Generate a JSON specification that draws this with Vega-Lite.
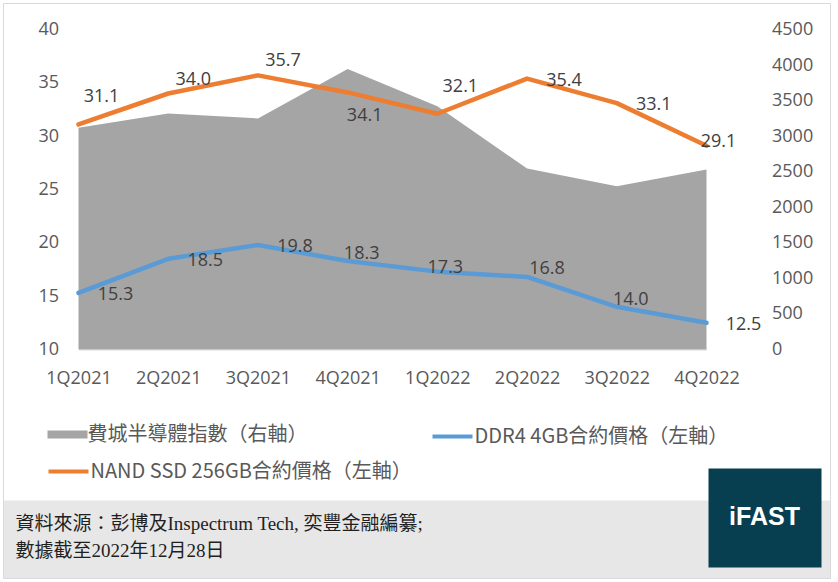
{
  "$schema": "https://vega.github.io/schema/vega-lite/v6.json",
  "background": "white",
  "padding": {"left": 2.5, "top": 2.5, "right": 7, "bottom": 3.5},
  "bounds": "flush",
  "spacing": 151,
  "resolve": {"scale": {"x": "independent", "y": "independent"}},
  "config": {"view": {"stroke": null}, "text": {"font": "Open Sans"},
    "legend": {"orient": "none", "title": null, "direction": "vertical", "labelFont": "Noto Sans CJK TC", "labelFontSize": 20, "labelColor": "#595959", "labelLimit": 600, "labelOffset": 0, "padding": 0, "symbolSize": 1600}},
  "vconcat": [
    {
      "width": 628,
      "height": 320,
      "data": {"values": [
        {"q": "1Q2021", "k": "SOX", "series": "費城半導體指數（右軸）", "value": 3120},
        {"q": "2Q2021", "k": "SOX", "series": "費城半導體指數（右軸）", "value": 3320},
        {"q": "3Q2021", "k": "SOX", "series": "費城半導體指數（右軸）", "value": 3250},
        {"q": "4Q2021", "k": "SOX", "series": "費城半導體指數（右軸）", "value": 3945},
        {"q": "1Q2022", "k": "SOX", "series": "費城半導體指數（右軸）", "value": 3420},
        {"q": "2Q2022", "k": "SOX", "series": "費城半導體指數（右軸）", "value": 2545},
        {"q": "3Q2022", "k": "SOX", "series": "費城半導體指數（右軸）", "value": 2295},
        {"q": "4Q2022", "k": "SOX", "series": "費城半導體指數（右軸）", "value": 2530},
        {"q": "1Q2021", "k": "DDR4", "series": "DDR4 4GB合約價格（左軸）", "value": 15.3},
        {"q": "2Q2021", "k": "DDR4", "series": "DDR4 4GB合約價格（左軸）", "value": 18.5},
        {"q": "3Q2021", "k": "DDR4", "series": "DDR4 4GB合約價格（左軸）", "value": 19.8},
        {"q": "4Q2021", "k": "DDR4", "series": "DDR4 4GB合約價格（左軸）", "value": 18.3},
        {"q": "1Q2022", "k": "DDR4", "series": "DDR4 4GB合約價格（左軸）", "value": 17.3},
        {"q": "2Q2022", "k": "DDR4", "series": "DDR4 4GB合約價格（左軸）", "value": 16.8},
        {"q": "3Q2022", "k": "DDR4", "series": "DDR4 4GB合約價格（左軸）", "value": 14.0},
        {"q": "4Q2022", "k": "DDR4", "series": "DDR4 4GB合約價格（左軸）", "value": 12.5},
        {"q": "1Q2021", "k": "NAND", "series": "NAND SSD 256GB合約價格（左軸）", "value": 31.1},
        {"q": "2Q2021", "k": "NAND", "series": "NAND SSD 256GB合約價格（左軸）", "value": 34.0},
        {"q": "3Q2021", "k": "NAND", "series": "NAND SSD 256GB合約價格（左軸）", "value": 35.7},
        {"q": "4Q2021", "k": "NAND", "series": "NAND SSD 256GB合約價格（左軸）", "value": 34.1},
        {"q": "1Q2022", "k": "NAND", "series": "NAND SSD 256GB合約價格（左軸）", "value": 32.1},
        {"q": "2Q2022", "k": "NAND", "series": "NAND SSD 256GB合約價格（左軸）", "value": 35.4},
        {"q": "3Q2022", "k": "NAND", "series": "NAND SSD 256GB合約價格（左軸）", "value": 33.1},
        {"q": "4Q2022", "k": "NAND", "series": "NAND SSD 256GB合約價格（左軸）", "value": 29.1}
      ]},
      "encoding": {
        "x": {
          "field": "q", "type": "ordinal",
          "sort": ["1Q2021", "2Q2021", "3Q2021", "4Q2021", "1Q2022", "2Q2022", "3Q2022", "4Q2022"],
          "scale": {"type": "point", "padding": 0},
          "axis": {"title": null, "labelAngle": 0, "ticks": false, "grid": false, "domainColor": "#D9D9D9", "domainWidth": 1, "labelPadding": 20, "labelFont": "Open Sans", "labelFontSize": 18, "labelColor": "#595959"}
        }
      },
      "layer": [
        {
          "transform": [{"filter": "datum.k === 'SOX'"}],
          "mark": {"type": "area", "opacity": 1},
          "encoding": {
            "y": {"field": "value", "type": "quantitative", "scale": {"domain": [0, 4500], "nice": false},
              "axis": {"orient": "right", "title": null, "format": "d", "values": [0, 500, 1000, 1500, 2000, 2500, 3000, 3500, 4000, 4500], "grid": false, "domain": false, "ticks": false, "offset": 44, "labelPadding": 21, "labelFont": "Open Sans", "labelFontSize": 18, "labelColor": "#595959"}},
            "fill": {
              "field": "series", "type": "nominal",
              "scale": {"domain": ["費城半導體指數（右軸）"], "range": ["#A5A5A5"]},
              "legend": {"legendX": -31, "legendY": 385, "symbolType": "M-1,-0.2H1V0.2H-1Z", "symbolStrokeWidth": 0}
            }
          }
        },
        {
          "encoding": {
            "y": {"field": "value", "type": "quantitative", "scale": {"domain": [10, 40], "nice": false, "zero": false},
              "axis": {"orient": "left", "title": null, "values": [10, 15, 20, 25, 30, 35, 40], "grid": false, "domain": false, "ticks": false, "labelPadding": 20, "labelFont": "Open Sans", "labelFontSize": 18, "labelColor": "#595959"}}
          },
          "layer": [
            {
              "transform": [{"filter": "datum.k === 'NAND'"}],
              "mark": {"type": "line", "strokeWidth": 4.5, "strokeCap": "round", "strokeJoin": "round"},
              "encoding": {"color": {"field": "series", "type": "nominal",
                "scale": {"domain": ["NAND SSD 256GB合約價格（左軸）"], "range": ["#ED7D31"]},
                "legend": {"legendX": -32, "legendY": 420, "symbolType": "stroke", "symbolStrokeWidth": 4}}}
            },
            {
              "transform": [{"filter": "datum.k === 'DDR4'"}],
              "mark": {"type": "line", "strokeWidth": 4.5, "strokeCap": "round", "strokeJoin": "round"},
              "encoding": {"stroke": {"field": "series", "type": "nominal",
                "scale": {"domain": ["DDR4 4GB合約價格（左軸）"], "range": ["#5B9BD5"]},
                "legend": {"legendX": 352, "legendY": 385, "symbolType": "stroke", "symbolStrokeWidth": 4}}}
            },
            {
              "transform": [{"filter": "datum.k === 'NAND' && (datum.q === '1Q2021' || datum.q === '1Q2022')"}],
              "mark": {"type": "text", "dx": 23, "dy": -27, "fontSize": 18, "color": "#404040"},
              "encoding": {"text": {"field": "value", "type": "quantitative", "format": ".1f"}}
            },
            {
              "transform": [{"filter": "datum.k === 'NAND' && (datum.q === '2Q2021' || datum.q === '3Q2021')"}],
              "mark": {"type": "text", "dx": 25, "dy": -14, "fontSize": 18, "color": "#404040"},
              "encoding": {"text": {"field": "value", "type": "quantitative", "format": ".1f"}}
            },
            {
              "transform": [{"filter": "datum.k === 'NAND' && datum.q === '4Q2021'"}],
              "mark": {"type": "text", "dx": 17, "dy": 24, "fontSize": 18, "color": "#404040"},
              "encoding": {"text": {"field": "value", "type": "quantitative", "format": ".1f"}}
            },
            {
              "transform": [{"filter": "(datum.k === 'NAND' && (datum.q === '2Q2022' || datum.q === '3Q2022')) || (datum.k === 'DDR4' && (datum.q === '1Q2021' || datum.q === '2Q2021' || datum.q === '3Q2021' || datum.q === '4Q2022'))"}],
              "mark": {"type": "text", "dx": 37, "dy": 2, "fontSize": 18, "color": "#404040"},
              "encoding": {"text": {"field": "value", "type": "quantitative", "format": ".1f"}}
            },
            {
              "transform": [{"filter": "datum.k === 'NAND' && datum.q === '4Q2022'"}],
              "mark": {"type": "text", "dx": 12, "dy": -4, "fontSize": 18, "color": "#404040"},
              "encoding": {"text": {"field": "value", "type": "quantitative", "format": ".1f"}}
            },
            {
              "transform": [{"filter": "datum.k === 'DDR4' && (datum.q === '4Q2021' || datum.q === '3Q2022')"}],
              "mark": {"type": "text", "dx": 14, "dy": -7, "fontSize": 18, "color": "#404040"},
              "encoding": {"text": {"field": "value", "type": "quantitative", "format": ".1f"}}
            },
            {
              "transform": [{"filter": "datum.k === 'DDR4' && datum.q === '1Q2022'"}],
              "mark": {"type": "text", "dx": 8, "dy": -4, "fontSize": 18, "color": "#404040"},
              "encoding": {"text": {"field": "value", "type": "quantitative", "format": ".1f"}}
            },
            {
              "transform": [{"filter": "datum.k === 'DDR4' && datum.q === '2Q2022'"}],
              "mark": {"type": "text", "dx": 20, "dy": -8, "fontSize": 18, "color": "#404040"},
              "encoding": {"text": {"field": "value", "type": "quantitative", "format": ".1f"}}
            }
          ]
        }
      ],
      "resolve": {"scale": {"y": "independent"}}
    },
    {
      "width": 628,
      "height": 78,
      "data": {"values": [
        {"t": "資料來源：彭博及Inspectrum Tech, 奕豐金融編纂;", "r": "s1"},
        {"t": "數據截至2022年12月28日", "r": "s2"},
        {"t": "iFAST", "r": "logo"}
      ]},
      "layer": [
        {
          "transform": [{"filter": "datum.r === 'logo'"}],
          "mark": {"type": "rect", "color": "#E7E7E7", "clip": false},
          "encoding": {
            "x": {"datum": -75, "type": "quantitative", "scale": {"domain": [0, 628], "nice": false, "zero": false}, "axis": null},
            "x2": {"datum": 752},
            "y": {"datum": 0, "type": "quantitative", "scale": {"domain": [0, 78], "nice": false, "zero": false, "reverse": true}, "axis": null},
            "y2": {"datum": 78}
          }
        },
        {
          "transform": [{"filter": "datum.r === 'logo'"}],
          "mark": {"type": "rect", "color": "#073F51", "clip": false},
          "encoding": {
            "x": {"datum": 630, "type": "quantitative"},
            "x2": {"datum": 743},
            "y": {"datum": -32, "type": "quantitative"},
            "y2": {"datum": 67}
          }
        },
        {
          "transform": [{"filter": "datum.r === 'logo'"}],
          "mark": {"type": "text", "font": "Liberation Sans", "fontWeight": "bold", "fontSize": 25, "color": "#FFFFFF", "align": "center", "baseline": "middle", "clip": false},
          "encoding": {
            "x": {"datum": 686, "type": "quantitative"},
            "y": {"datum": 16, "type": "quantitative"},
            "text": {"field": "t"}
          }
        },
        {
          "transform": [{"filter": "datum.r === 's1'"}],
          "mark": {"type": "text", "font": "Liberation Serif, Noto Sans CJK TC", "fontSize": 19, "color": "#1F1F1F", "align": "left", "baseline": "middle", "clip": false},
          "encoding": {
            "x": {"datum": -63, "type": "quantitative"},
            "y": {"datum": 23, "type": "quantitative"},
            "text": {"field": "t"}
          }
        },
        {
          "transform": [{"filter": "datum.r === 's2'"}],
          "mark": {"type": "text", "font": "Liberation Serif, Noto Sans CJK TC", "fontSize": 19, "color": "#1F1F1F", "align": "left", "baseline": "middle", "clip": false},
          "encoding": {
            "x": {"datum": -63, "type": "quantitative"},
            "y": {"datum": 50, "type": "quantitative"},
            "text": {"field": "t"}
          }
        },
        {
          "transform": [{"filter": "datum.r === 'logo'"}],
          "mark": {"type": "rect", "filled": false, "color": "#D9D9D9", "strokeWidth": 1, "clip": false},
          "encoding": {
            "x": {"datum": -75, "type": "quantitative"},
            "x2": {"datum": 752},
            "y": {"datum": -497, "type": "quantitative"},
            "y2": {"datum": 78}
          }
        }
      ]
    }
  ]
}
